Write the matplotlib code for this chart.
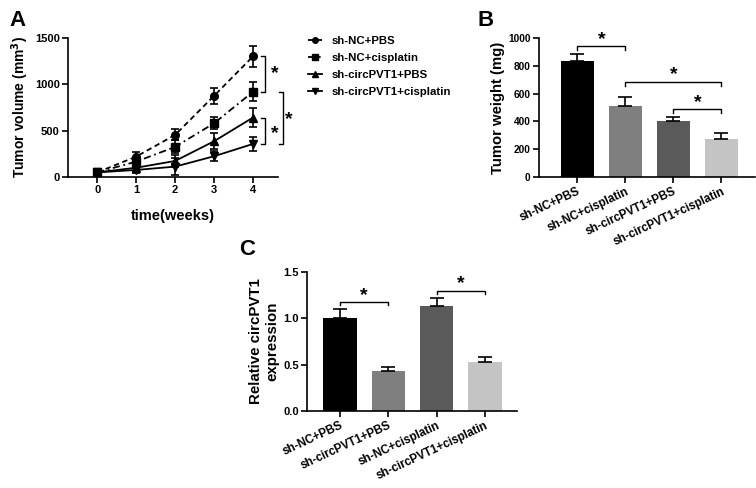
import matplotlib
matplotlib.use("Agg")
import matplotlib.pyplot as plt
import numpy as np
from matplotlib.lines import Line2D

plt.rcParams['font.family'] = ['Liberation Sans', 'DejaVu Sans']
plt.rcParams['font.weight'] = 'bold'

# ---- Panel A data ----
weeks = [0, 1, 2, 3, 4]
series_names = ["sh-NC+PBS", "sh-NC+cisplatin", "sh-circPVT1+PBS", "sh-circPVT1+cisplatin"]
nc_pbs = [50, 220, 454, 876, 1302]
nc_pbs_err = [15, 45, 60, 85, 115]
nc_cis = [50, 166, 325, 580, 920]
nc_cis_err = [15, 50, 70, 65, 100]
pvt_pbs = [50, 100, 173, 386, 642]
pvt_pbs_err = [15, 40, 60, 85, 100]
pvt_cis = [50, 76, 112, 224, 357]
pvt_cis_err = [15, 30, 90, 55, 80]

# ---- Panel B data ----
b_labels = ["sh-NC+PBS", "sh-NC+cisplatin", "sh-circPVT1+PBS", "sh-circPVT1+cisplatin"]
b_vals = [832, 512, 406, 274]
b_err = [55, 67, 24, 41]

# ---- Panel C data ----
c_labels = ["sh-NC+PBS", "sh-circPVT1+PBS", "sh-NC+cisplatin", "sh-circPVT1+cisplatin"]
c_vals = [1.008, 0.434, 1.13, 0.527]
c_err = [0.092, 0.043, 0.09, 0.051]

bar_colors = ['#000000', '#7f7f7f', '#5a5a5a', '#c4c4c4']

fig = plt.figure(figsize=(7.56, 4.88), dpi=100)

def style(ax, size=8):
    for s in ['top', 'right']:
        ax.spines[s].set_visible(False)
    for s in ['left', 'bottom']:
        ax.spines[s].set_linewidth(1.2)
    ax.tick_params(direction='out', length=4, width=1.2, labelsize=size, pad=2)
    for t in ax.get_xticklabels() + ax.get_yticklabels():
        t.set_fontweight('bold')

# ---------------- Panel A ----------------
axA = fig.add_axes([0.0899, 0.6373, 0.2778, 0.2848])
styles = [
    dict(ls=(0, (3, 2)), marker='o', vals=nc_pbs, err=nc_pbs_err),
    dict(ls=(0, (4, 2, 1, 2)), marker='s', vals=nc_cis, err=nc_cis_err),
    dict(ls='-', marker='^', vals=pvt_pbs, err=pvt_pbs_err),
    dict(ls='-', marker='v', vals=pvt_cis, err=pvt_cis_err),
]
handles = []
for name, st in zip(series_names, styles):
    axA.errorbar(weeks, st['vals'], yerr=st['err'], color='black', linestyle=st['ls'],
                 marker=st['marker'], markersize=5.5, linewidth=1.3, capsize=3,
                 elinewidth=1.2, capthick=1.2, clip_on=False)
    handles.append(Line2D([], [], color='black', linestyle=st['ls'], marker=st['marker'],
                          markersize=4, linewidth=1.3, label=name))
axA.set_xlim(-0.75, 4.64)
axA.set_ylim(0, 1500)
axA.set_xticks(weeks)
axA.set_yticks([0, 500, 1000, 1500])
axA.set_xlabel('time(weeks)', fontsize=10.5, fontweight='bold', labelpad=10)
axA.set_ylabel('Tumor volume (mm$^\\mathbf{3}$)', fontsize=10, fontweight='bold', labelpad=3)
style(axA)

def vbracket(ax, x, y1, y2, w=0.1):
    ax.plot([x - w, x, x, x - w], [y1, y1, y2, y2], color='black', lw=1.0, clip_on=False)

vbracket(axA, 4.31, 1302, 920)
vbracket(axA, 4.31, 642, 357)
vbracket(axA, 4.76, 920, 357)
axA.text(4.55, 1111, '*', fontsize=14, fontweight='bold', ha='center', va='center')
axA.text(4.55, 470, '*', fontsize=14, fontweight='bold', ha='center', va='center')
axA.text(4.92, 620, '*', fontsize=14, fontweight='bold', ha='center', va='center')

fig.legend(handles=handles, loc='upper left', bbox_to_anchor=(0.407, 0.926),
           frameon=False, handlelength=1.3, handletextpad=0.8,
           labelspacing=0.62, borderaxespad=0, borderpad=0,
           prop={'weight': 'bold', 'size': 8.2})

# ---------------- Panel B ----------------
axB = fig.add_axes([0.713, 0.6373, 0.2857, 0.2848])
xb = np.arange(len(b_vals))
axB.bar(xb, b_vals, width=0.69, color=bar_colors)
axB.errorbar(xb, b_vals, yerr=[np.zeros(len(b_err)), b_err], fmt='none', ecolor='black',
             elinewidth=1.2, capsize=5, capthick=1.2)
axB.set_xlim(-0.8, 3.7)
axB.set_ylim(0, 1000)
axB.set_yticks([0, 200, 400, 600, 800, 1000])
axB.set_xticks(xb)
axB.set_xticklabels(b_labels, rotation=25, ha='right', rotation_mode='anchor')
axB.set_ylabel('Tumor weight (mg)', fontsize=10.7, fontweight='bold', labelpad=2)
style(axB, 7.3)
for t in axB.get_xticklabels():
    t.set_fontsize(8.4)

def hbracket(ax, x1, x2, y, d, star_y):
    ax.plot([x1, x1, x2, x2], [y - d, y, y, y - d], color='black', lw=1.0, clip_on=False)
    ax.text((x1 + x2) / 2, star_y, '*', fontsize=14, fontweight='bold', ha='center', va='center')

hbracket(axB, 0, 1, 940, 29, 990)
hbracket(axB, 1, 3, 687, 35, 737)
hbracket(axB, 2, 3, 488, 28, 538)

# ---------------- Panel C ----------------
axC = fig.add_axes([0.4061, 0.1578, 0.2778, 0.2848])
xc = np.arange(len(c_vals))
axC.bar(xc, c_vals, width=0.69, color=bar_colors)
axC.errorbar(xc, c_vals, yerr=[np.zeros(len(c_err)), c_err], fmt='none', ecolor='black',
             elinewidth=1.2, capsize=5, capthick=1.2)
axC.set_xlim(-0.68, 3.66)
axC.set_ylim(0, 1.5)
axC.set_yticks([0, 0.5, 1.0, 1.5])
axC.set_yticklabels(['0.0', '0.5', '1.0', '1.5'])
axC.set_xticks(xc)
axC.set_xticklabels(c_labels, rotation=25, ha='right', rotation_mode='anchor')
axC.set_ylabel('Relative circPVT1\nexpression', fontsize=10.8, fontweight='bold', labelpad=3,
               linespacing=1.2)
style(axC, 8)
for t in axC.get_xticklabels():
    t.set_fontsize(8.4)
hbracket(axC, 0, 1, 1.18, 0.04, 1.25)
hbracket(axC, 2, 3, 1.30, 0.04, 1.37)

# Panel labels
fig.text(0.013, 0.98, 'A', fontsize=16, fontweight='bold', va='top', ha='left')
fig.text(0.632, 0.98, 'B', fontsize=16, fontweight='bold', va='top', ha='left')
fig.text(0.316, 0.51, 'C', fontsize=16, fontweight='bold', va='top', ha='left')

fig.savefig('out.png', dpi=100)
